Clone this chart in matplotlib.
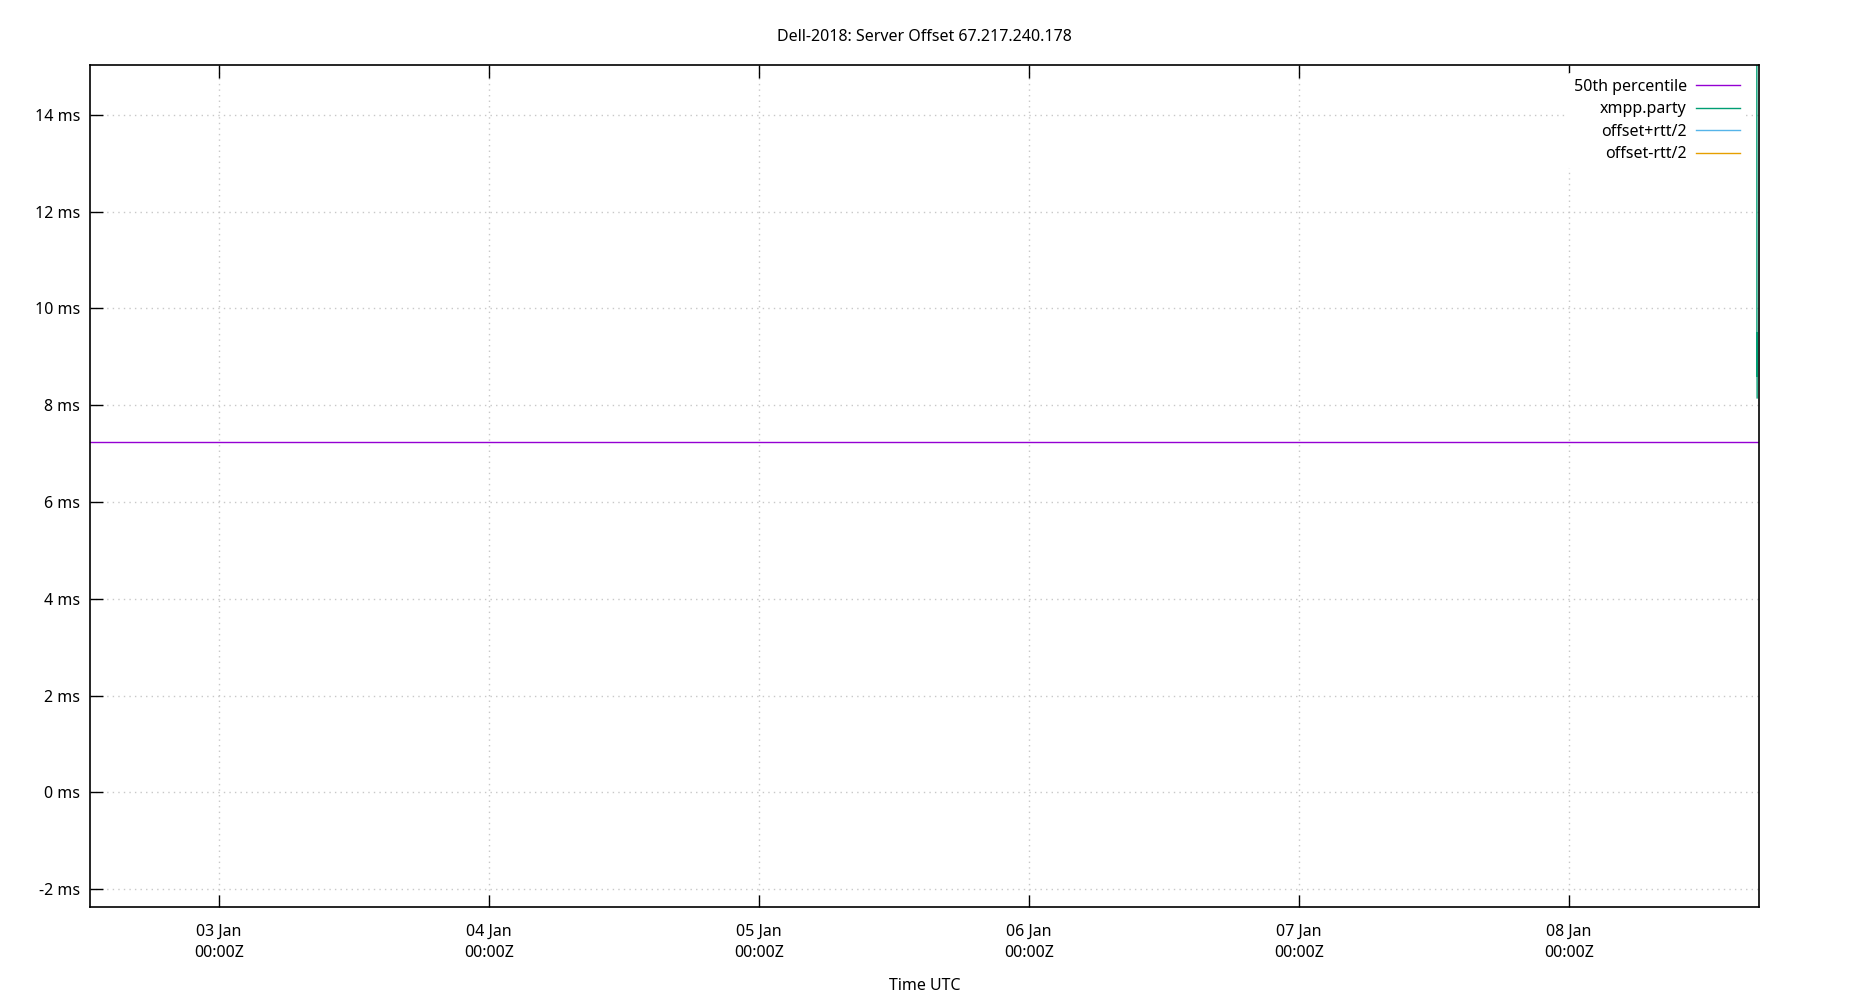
import matplotlib
matplotlib.use("Agg")
import matplotlib.pyplot as plt
import matplotlib.dates as mdates
import pandas as pd

plt.rcParams['font.family'] = ['Noto Sans', 'DejaVu Sans']

# ---- data ----
title = "Dell-2018: Server Offset 67.217.240.178"
xlabel = "Time UTC"
x_start = "2019-01-02 12:32:00"
x_end = "2019-01-08 16:53:00"

median_times = ["2019-01-02 12:32:00", "2019-01-08 16:53:00"]
median_values = [7.23, 7.23]

xmpp_times = ["2019-01-08 16:41:00", "2019-01-08 16:42:00", "2019-01-08 16:42:30", "2019-01-08 16:43:00"]
xmpp_values = [22.0, 8.6, 9.5, 8.15]

plus_times = []
plus_values = []
minus_times = []
minus_values = []

y_ticks = [-2, 0, 2, 4, 6, 8, 10, 12, 14]
y_limits = [-2.37, 15.03]
x_tick_days = ["2019-01-03", "2019-01-04", "2019-01-05", "2019-01-06", "2019-01-07", "2019-01-08"]

labels = ["50th percentile", "xmpp.party", "offset+rtt/2", "offset-rtt/2"]
colors = ["#9400d3", "#009e73", "#56b4e9", "#e69f00"]

FS = 11.5

# ---- figure ----
fig = plt.figure(figsize=(18.5, 10), dpi=100)
ax = fig.add_axes([90/1850, 93/1000, (1759-90)/1850, (907-65)/1000])

def to_dt(lst):
    return pd.to_datetime(lst, format="%Y-%m-%d %H:%M:%S") if len(lst) else []

ax.plot(to_dt(median_times), median_values, color=colors[0], lw=1.0, label=labels[0])
ax.plot(to_dt(xmpp_times), xmpp_values, color=colors[1], lw=1.0, label=labels[1])
ax.plot(to_dt(plus_times), plus_values, color=colors[2], lw=1.0, label=labels[2])
ax.plot(to_dt(minus_times), minus_values, color=colors[3], lw=1.0, label=labels[3])

ax.set_xlim(pd.Timestamp(x_start), pd.Timestamp(x_end))
ax.set_ylim(*y_limits)
ax.set_yticks(y_ticks)
ax.set_yticklabels([f"{v} ms" for v in y_ticks])
ax.set_xticks(pd.to_datetime(x_tick_days))
ax.xaxis.set_major_formatter(mdates.DateFormatter("%d %b\n%H:%MZ"))

ax.tick_params(axis='both', direction='in', length=9, width=1, labelsize=FS, colors='black')
ax.tick_params(axis='x', top=True, bottom=True, pad=12)
ax.tick_params(axis='y', left=True, right=False, pad=7)
for lab in ax.get_xticklabels():
    lab.set_linespacing(1.45)

ax.grid(True, color='#c8c8c8', linestyle=(0, (1, 3)), linewidth=1.0)
for s in ax.spines.values():
    s.set_linewidth(1.2)
    s.set_color('black')

ax.set_title(title, fontsize=FS, pad=17.5)
ax.set_xlabel(xlabel, fontsize=FS, labelpad=12)

leg = ax.legend(loc='upper right', markerfirst=False, frameon=True, fontsize=FS,
                handlelength=2.75, handletextpad=0.55, labelspacing=0.4,
                borderaxespad=0.5, bbox_to_anchor=(0.997, 1.0005))
leg.get_frame().set_facecolor('white')
leg.get_frame().set_edgecolor('none')
leg.get_frame().set_alpha(1.0)
for t in leg.get_texts():
    t.set_ha('right')

fig.savefig("out.png", dpi=100, facecolor='white')
